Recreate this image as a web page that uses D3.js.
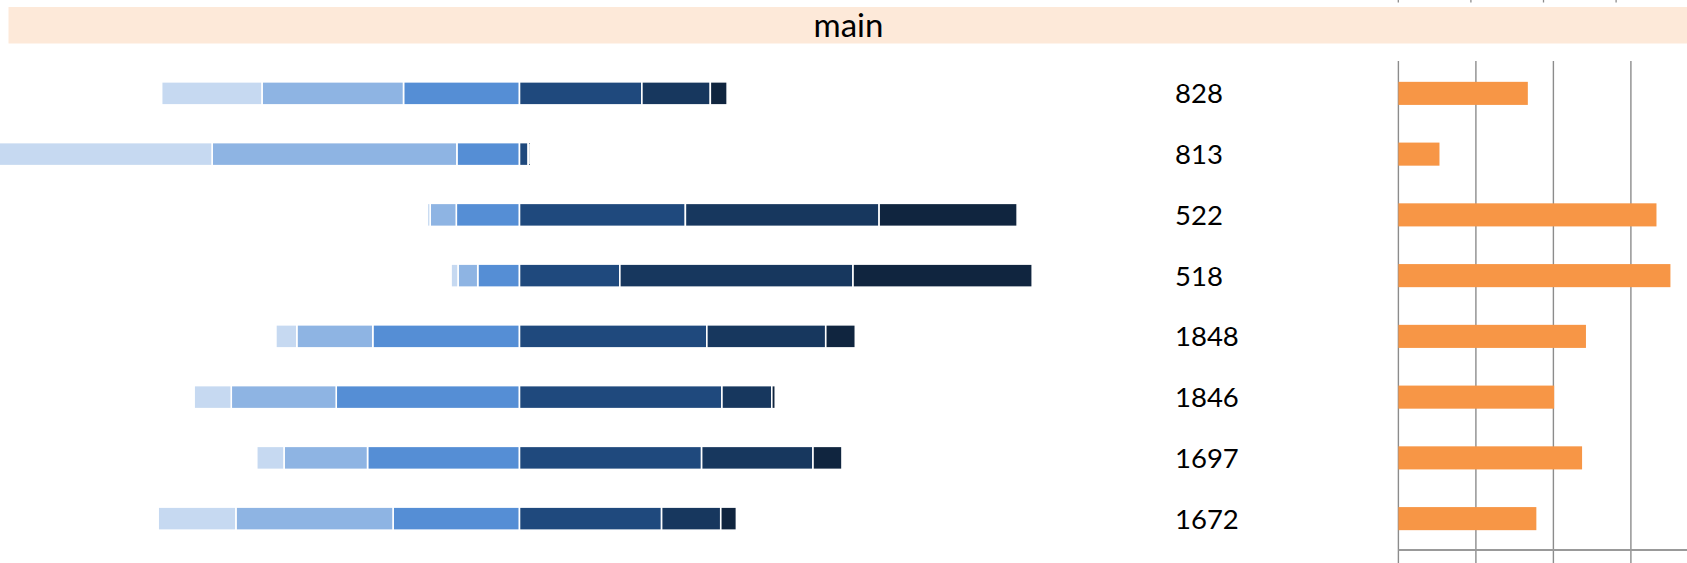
<!DOCTYPE html>
<html>
<head>
<meta charset="utf-8">
<script src="https://cdn.jsdelivr.net/npm/d3@7"></script>
<style>
  html, body { margin: 0; padding: 0; background: #fff; overflow: hidden; }
  svg { display: block; }
</style>
</head>
<body>
<svg id="chart" width="1687" height="563"></svg>
<script>
// ---- data ----
const panelTitle = "main";
const rowLabels = ["828", "813", "522", "518", "1848", "1846", "1697", "1672"];
// diverging segments: s1..s3 left of centre (s3 nearest centre), s4..s6 right of centre
const s1 = [17.3, 45.5, 0.5, 1.2, 3.6, 6.4, 4.7, 13.4];
const s2 = [24.4, 42.2, 4.5, 3.4, 13.1, 18.1, 14.4, 27.1];
const s3 = [20.0, 10.8, 10.9, 7.2, 25.3, 31.6, 26.2, 21.8];
const s4 = [21.1, 1.5, 28.6, 17.3, 32.3, 34.9, 31.4, 24.5];
const s5 = [11.8, 0.3, 33.4, 40.2, 20.5, 8.6, 19.2, 10.2];
const s6 = [2.9, 0.0, 23.8, 30.9, 5.1, 0.6, 5.0, 2.7];
const sideValues = [16.7, 5.3, 33.3, 35.1, 24.2, 20.1, 23.7, 17.8];
const sideTicks = [0, 10, 20, 30, 40];
const topTicks = [0, 10, 20, 30];

const segColors = ["#C6D9F1", "#8EB4E3", "#558ED5", "#1F497D", "#17375E", "#10253F"];
const sideColor = "#F79646";

// ---- scales ----
const svg = d3.select("#chart");
const y = d3.scaleBand().domain(rowLabels.map((d, i) => i)).range([63, 549])
  .paddingInner(0.62).paddingOuter(0.31);
const x = d3.scaleLinear().domain([-100, 100]).range([-60.5, 1099.5]);
const xs = d3.scaleLinear().domain([0, 40]).range([1398.4, 1708.4]);
const xt = d3.scaleLinear().domain([0, 30]).range([1398.3, 1616.1]);

// header strip
svg.append("rect").attr("x", 8.5).attr("y", 7).attr("width", 1687 - 8.5).attr("height", 36.5)
  .attr("fill", "#FDE9D9");
svg.append("text").attr("x", 848.5).attr("y", 36.5).attr("text-anchor", "middle")
  .attr("font-family", "Lato, 'Open Sans', sans-serif").attr("font-size", 33).attr("fill", "#000")
  .text(panelTitle);

// ticks of the panel above
svg.append("g").selectAll("line").data(topTicks).join("line")
  .attr("x1", d => xt(d)).attr("x2", d => xt(d)).attr("y1", 0).attr("y2", 2.5)
  .attr("stroke", "#8c8c8c").attr("stroke-width", 1.3);

// ---- diverging stacked bars ----
const series = [s1, s2, s3, s4, s5, s6];
const segs = [];
rowLabels.forEach((lab, i) => {
  // left side: from centre outward s3, s2, s1
  let acc = 0;
  [2, 1, 0].forEach(k => {
    const v = series[k][i];
    segs.push({ row: i, k, a: -(acc + v), b: -acc });
    acc += v;
  });
  acc = 0;
  [3, 4, 5].forEach(k => {
    const v = series[k][i];
    segs.push({ row: i, k, a: acc, b: acc + v });
    acc += v;
  });
});
svg.append("g").selectAll("rect").data(segs.filter(d => d.b - d.a > 0)).join("rect")
  .attr("x", d => x(d.a)).attr("width", d => x(d.b) - x(d.a))
  .attr("y", d => y(d.row)).attr("height", y.bandwidth())
  .attr("fill", d => segColors[d.k])
  .attr("stroke", "#fff").attr("stroke-width", 1.6);

// row labels
svg.append("g").selectAll("text").data(rowLabels).join("text")
  .attr("x", 1175).attr("y", (d, i) => y(i) + y.bandwidth() / 2 + 10)
  .attr("font-family", "Lato, 'Open Sans', sans-serif").attr("font-size", 27.5).attr("fill", "#000")
  .text(d => d);

// ---- side panel ----
const grid = svg.append("g");
grid.selectAll("line").data(sideTicks.filter(d => xs(d) < 1687)).join("line")
  .attr("x1", d => xs(d)).attr("x2", d => xs(d)).attr("y1", 61).attr("y2", 563)
  .attr("stroke", "#8c8c8c").attr("stroke-width", 1.4);

svg.append("g").selectAll("rect").data(sideValues).join("rect")
  .attr("x", xs(0)).attr("width", d => xs(d) - xs(0))
  .attr("y", (d, i) => y(i)).attr("height", y.bandwidth())
  .attr("fill", sideColor);

// bottom axis line
svg.append("line").attr("x1", xs(0)).attr("x2", 1687).attr("y1", 550).attr("y2", 550)
  .attr("stroke", "#999").attr("stroke-width", 2);
</script>
</body>
</html>
